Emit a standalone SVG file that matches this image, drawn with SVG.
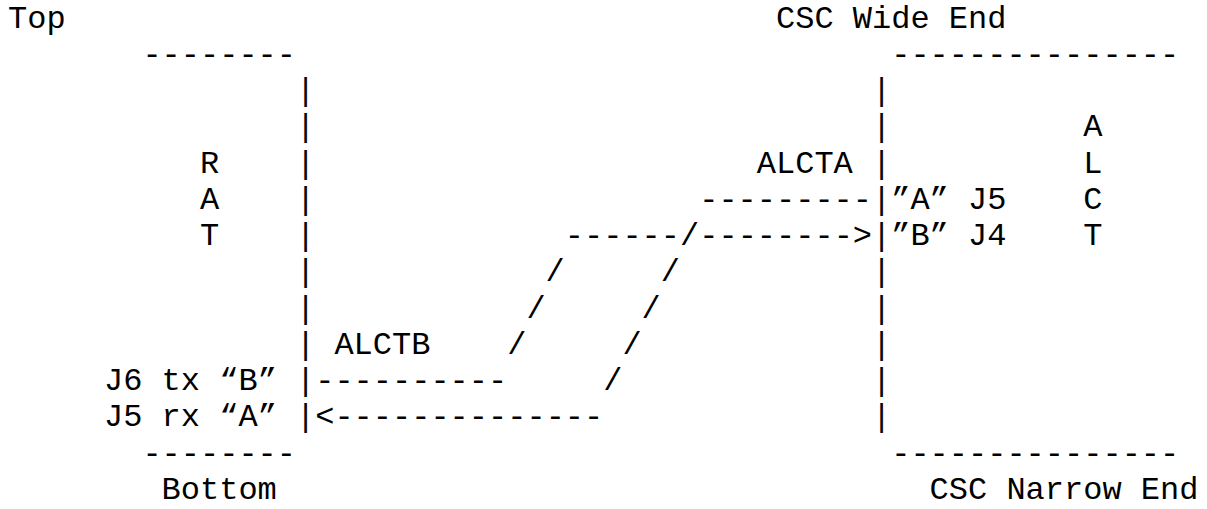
<svg xmlns="http://www.w3.org/2000/svg" width="1207" height="509" viewBox="0 0 1207 509">
<style>
text{font-family:"Liberation Mono","Courier New",monospace;font-size:32px;fill:#000;white-space:pre}
</style>
<rect width="1207" height="509" fill="#fff"/>
<g id="rat">
<text x="8" y="27.5">Top</text>
<text x="142.4" y="63.77">--------</text>
<text x="296"><tspan x="296" y="100.04">|</tspan><tspan x="296" y="136.31">|</tspan><tspan x="296" y="172.58">|</tspan><tspan x="296" y="208.85">|</tspan><tspan x="296" y="245.12">|</tspan><tspan x="296" y="281.39">|</tspan><tspan x="296" y="317.66">|</tspan><tspan x="296" y="353.93">|</tspan><tspan x="296" y="390.2">|</tspan><tspan x="296" y="426.47">|</tspan></text>
<text x="200"><tspan x="200" y="172.58">R</tspan><tspan x="200" y="208.85">A</tspan><tspan x="200" y="245.12">T</tspan></text>
<text x="104" y="390.2">J6 tx “B”</text>
<text x="104" y="426.47">J5 rx “A”</text>
<text x="142.4" y="462.74">--------</text>
<text x="161.6" y="499">Bottom</text>
</g>
<g id="alct">
<text x="776" y="27.5">CSC Wide End</text>
<text x="891.2" y="63.77">---------------</text>
<text x="872"><tspan x="872" y="100.04">|</tspan><tspan x="872" y="136.31">|</tspan><tspan x="872" y="172.58">|</tspan><tspan x="872" y="208.85">|</tspan><tspan x="872" y="245.12">|</tspan><tspan x="872" y="281.39">|</tspan><tspan x="872" y="317.66">|</tspan><tspan x="872" y="353.93">|</tspan><tspan x="872" y="390.2">|</tspan><tspan x="872" y="426.47">|</tspan></text>
<text x="1083.2"><tspan x="1083.2" y="136.31">A</tspan><tspan x="1083.2" y="172.58">L</tspan><tspan x="1083.2" y="208.85">C</tspan><tspan x="1083.2" y="245.12">T</tspan></text>
<text x="891.2" y="208.85">”A” J5</text>
<text x="891.2" y="245.12">”B” J4</text>
<text x="891.2" y="462.74">---------------</text>
<text x="929.6" y="499">CSC Narrow End</text>
</g>
<g id="connectors">
<text x="756.8" y="172.58">ALCTA</text>
<text x="699.2" y="208.85">---------</text>
<text x="564.8" y="245.12">------/--------&gt;</text>
<text x="545.6" y="281.39">/</text>
<text x="660.8" y="281.39">/</text>
<text x="526.4" y="317.66">/</text>
<text x="641.6" y="317.66">/</text>
<text x="334.4" y="353.93">ALCTB</text>
<text x="507.2" y="353.93">/</text>
<text x="622.4" y="353.93">/</text>
<text x="315.2" y="390.2">----------</text>
<text x="603.2" y="390.2">/</text>
<text x="315.2" y="426.47">&lt;--------------</text>
</g>
</svg>
